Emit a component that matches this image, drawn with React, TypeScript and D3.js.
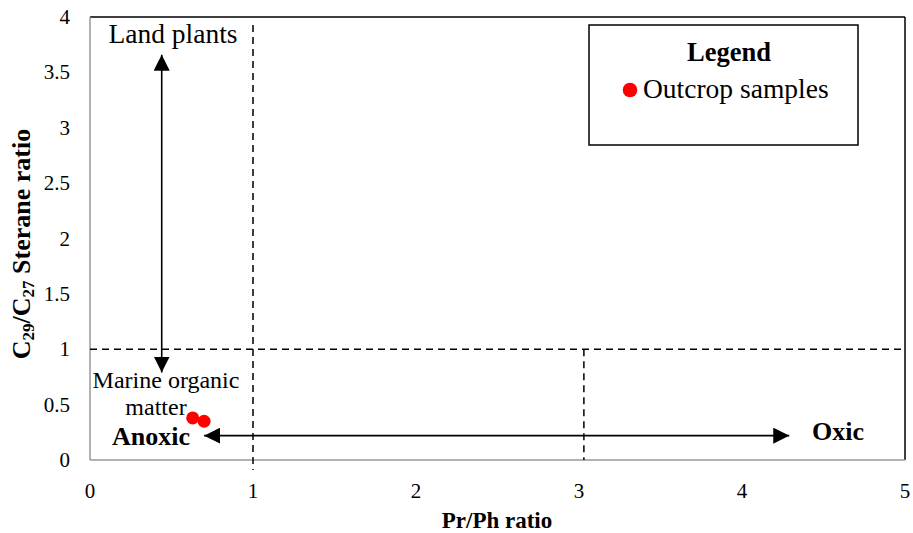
import React from "react";
import * as d3 from "d3";

// Sample measurements: Pr/Ph ratio vs C29/C27 sterane ratio
const prPh = [0.63, 0.7];
const sterane = [0.38, 0.35];

const xTicks = [0, 1, 2, 3, 4, 5];
const yTicks = [0, 0.5, 1, 1.5, 2, 2.5, 3, 3.5, 4];

// Interpretation guides (data units)
const thresholdY = 1;
const thresholdX = [1, 3.03];
const sourceArrow = { x: 0.44, y0: 3.66, y1: 0.79 };
const redoxArrow = { y: 0.22, x0: 0.7, x1: 4.29 };

const W = 913;
const H = 533;
const M = { left: 90, right: 8, top: 17, bottom: 73 };
const FONT = "Liberation Serif, Times New Roman, serif";

export default function App() {
  const x = d3.scaleLinear().domain([0, 5]).range([M.left, W - M.right]);
  const y = d3.scaleLinear().domain([0, 4]).range([H - M.bottom, M.top]);
  const [x0, x1] = x.range();
  const [yb, yt] = y.range();

  const dash = "7 5";
  const T = (props: any) => <text fontFamily={FONT} fill="#000" {...props} />;

  return (
    <svg width={W} height={H} style={{ position: "absolute", left: 0, top: 0 }}>
      <defs>
        <marker id="ah" viewBox="0 0 10 10" refX="10" refY="5" markerWidth="16" markerHeight="16"
          markerUnits="userSpaceOnUse" orient="auto-start-reverse">
          <path d="M0,0 L10,5 L0,10 z" fill="#000" />
        </marker>
      </defs>
      <rect width={W} height={H} fill="#fff" />

      {/* plot frame */}
      <line x1={x0} x2={x1} y1={yt} y2={yt} stroke="#000" strokeWidth={1.5} />
      <line x1={x1} x2={x1} y1={yt} y2={yb} stroke="#000" strokeWidth={1.5} />
      <line x1={x0} x2={x0} y1={yt} y2={yb} stroke="#999" strokeWidth={1.5} />
      <line x1={x0} x2={x1} y1={yb} y2={yb} stroke="#999" strokeWidth={1.5} />

      {/* threshold lines */}
      <line x1={x0} x2={x1} y1={y(thresholdY)} y2={y(thresholdY)} stroke="#000" strokeWidth={1.5} strokeDasharray={dash} />
      <line x1={x(thresholdX[0])} x2={x(thresholdX[0])} y1={yt + 8} y2={yb + 10} stroke="#000" strokeWidth={1.5} strokeDasharray={dash} />
      <line x1={x(thresholdX[1])} x2={x(thresholdX[1])} y1={y(thresholdY)} y2={yb} stroke="#000" strokeWidth={1.5} strokeDasharray={dash} />

      {/* arrows */}
      <line x1={x(sourceArrow.x)} x2={x(sourceArrow.x)} y1={y(sourceArrow.y0)} y2={y(sourceArrow.y1)}
        stroke="#000" strokeWidth={1.6} markerStart="url(#ah)" markerEnd="url(#ah)" />
      <line x1={x(redoxArrow.x0)} x2={x(redoxArrow.x1)} y1={y(redoxArrow.y)} y2={y(redoxArrow.y)}
        stroke="#000" strokeWidth={1.6} markerStart="url(#ah)" markerEnd="url(#ah)" />

      {/* ticks */}
      {xTicks.map((t) => (
        <T key={`x${t}`} x={x(t)} y={yb + 38} textAnchor="middle" fontSize={21}>{t}</T>
      ))}
      {yTicks.map((t) => (
        <T key={`y${t}`} x={x0 - 20} y={y(t) + 7} textAnchor="end" fontSize={21}>{t}</T>
      ))}

      {/* annotations */}
      <T x={173} y={43} textAnchor="middle" fontSize={27.5}>Land plants</T>
      <T x={166} y={388} textAnchor="middle" fontSize={24}>Marine organic</T>
      <T x={156} y={415} textAnchor="middle" fontSize={24}>matter</T>
      <T x={151} y={445} textAnchor="middle" fontSize={26} fontWeight="bold">Anoxic</T>
      <T x={838} y={440} textAnchor="middle" fontSize={26} fontWeight="bold">Oxic</T>

      {/* points */}
      {prPh.map((v, i) => (
        <circle key={i} cx={x(v)} cy={y(sterane[i])} r={6.5} fill="#ff0000" />
      ))}

      {/* legend */}
      <rect x={589} y={25} width={269} height={120} fill="#fff" stroke="#000" strokeWidth={1.5} />
      <T x={729} y={61} textAnchor="middle" fontSize={26.5} fontWeight="bold">Legend</T>
      <circle cx={630} cy={90} r={7.3} fill="#ff0000" />
      <T x={643} y={98} fontSize={27.5}>Outcrop samples</T>

      {/* axis titles */}
      <T x={497} y={528} textAnchor="middle" fontSize={23} fontWeight="bold">Pr/Ph ratio</T>
      <T transform={`translate(30, 244) rotate(-90)`} textAnchor="middle" fontSize={26} fontWeight="bold">
        C<tspan fontSize={17} dy={4}>29</tspan><tspan dy={-4}>/C</tspan><tspan fontSize={17} dy={4}>27</tspan><tspan dy={-4}> Sterane ratio</tspan>
      </T>
    </svg>
  );
}
